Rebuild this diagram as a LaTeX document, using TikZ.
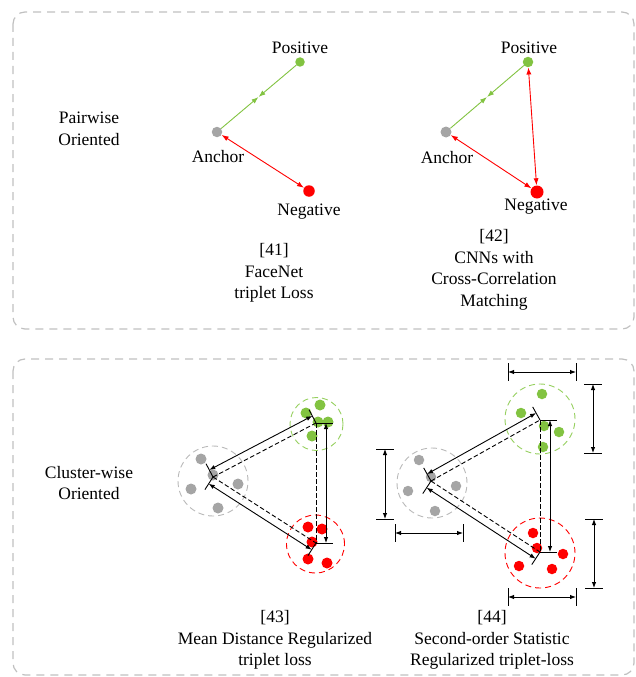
\documentclass[tikz,border=0pt]{standalone}
\usepackage{fontspec}
\setmainfont{Liberation Serif}
\usetikzlibrary{arrows.meta,calc}

\definecolor{leafgreen}{RGB}{130,195,65}
\definecolor{ringgreen}{RGB}{150,208,95}
\definecolor{pointred}{RGB}{255,0,0}
\definecolor{boxgray}{RGB}{192,192,192}
\definecolor{dotgray}{RGB}{165,165,165}
\definecolor{ringgray}{RGB}{185,185,185}

\begin{document}
\begin{tikzpicture}[x=1pt,y=-1pt]
    \tikzset{every node/.style={font=\fontsize{17.5}{21.5}\selectfont},
        dot/.style={circle,fill,inner sep=0pt,minimum size=#1},
        dot/.default=11pt,
        ring/.style={circle,draw,dash pattern=on 6pt off 4pt,line width=0.9pt,inner sep=0pt,minimum size=#1},
        frame/.style={draw=boxgray,line width=1.2pt,dash pattern=on 8pt off 6pt,rounded corners=12pt},
        pull/.style={draw=leafgreen,line width=0.9pt,-{Latex[length=7pt,width=5pt]}},
        push/.style={draw=pointred,line width=0.9pt,{Latex[length=7pt,width=5pt]}-{Latex[length=7pt,width=5pt]}},
        gap/.style={line width=0.9pt,{Latex[length=6pt,width=4.5pt]}-{Latex[length=6pt,width=4.5pt]}},
        meanline/.style={line width=0.9pt,dash pattern=on 4.5pt off 2.5pt},
        tick/.style={line width=0.9pt},
        blurb/.style={align=center}}
    \useasboundingbox (0,0) rectangle (636,677);

    % the two groups
    \draw[frame] (13,12) rectangle (634,329);
    \draw[frame] (13,359) rectangle (634,675);

    \node[blurb] (pw) at (89,129) {Pairwise\\Oriented};
    \node[blurb] (cw) at (89,483) {Cluster-wise\\Oriented};

    % [41]
    \node[dot=9.5pt,fill=leafgreen] (pos1) at (300,62) {};
    \node[dot=10.5pt,fill=dotgray] (anc1) at (217,132) {};
    \node[dot=11.5pt,fill=pointred] (neg1) at (309,191) {};
    \node[anchor=base] (tpos1) at (300,53) {Positive};
    \node[anchor=base] (tanc1) at (218,162) {Anchor};
    \node[anchor=base] (tneg1) at (309,215) {Negative};
    \coordinate (m1) at ($(anc1)!0.5!(pos1)$);
    \draw[pull] (anc1) -- (m1);
    \draw[pull] (pos1) -- (m1);
    \draw[push] (anc1) -- (neg1);
    \node[blurb] (ref41) at (274,273) {[41]\\FaceNet\\triplet Loss};

    % [42]
    \node[dot=10.5pt,fill=leafgreen] (pos2) at (528,62) {};
    \node[dot=11pt,fill=dotgray] (anc2) at (446,132) {};
    \node[dot=13pt,fill=pointred] (neg2) at (537,192) {};
    \node[anchor=base] (tpos2) at (529,54) {Positive};
    \node[anchor=base] (tanc2) at (447,163) {Anchor};
    \node[anchor=base] (tneg2) at (536,210) {Negative};
    \coordinate (m2) at ($(anc2)!0.5!(pos2)$);
    \draw[pull] (anc2) -- (m2);
    \draw[pull] (pos2) -- (m2);
    \draw[push] (anc2) -- (neg2);
    \draw[push] (pos2) -- (neg2);
    \node[blurb] (ref42) at (494,270) {[42]\\CNNs with\\Cross-Correlation\\Matching};

    % [43] clusters
    \node[ring=70pt,draw=ringgray] (ringa3) at (213,481) {};
    \node[ring=53pt,draw=ringgreen] (ringp3) at (316.5,424) {};
    \node[ring=58pt,draw=pointred] (ringn3) at (315.5,544) {};
    \foreach \x/\y [count=\i] in {201/459,191/489,218/508,238/484,213/475}
        \node[dot,fill=dotgray] (ga3\i) at (\x,\y) {};
    \foreach \x/\y [count=\i] in {306/413,320/405,318/422,328/422,312/436}
        \node[dot,fill=leafgreen] (gp3\i) at (\x,\y) {};
    \foreach \x/\y [count=\i] in {308/527,312/542,322/529,308/559,327/563}
        \node[dot,fill=pointred] (gn3\i) at (\x,\y) {};
    \coordinate (anc3) at (213,477);
    \coordinate (pos3) at (316,423);
    \coordinate (neg3) at (316,543);
    \node[blurb] (ref43) at (275,640) {[43]\\Mean Distance Regularized\\triplet loss};

    % [44] clusters
    \node[ring=70pt,draw=ringgray] (ringa4) at (432,483) {};
    \node[ring=70pt,draw=ringgreen] (ringp4) at (540,419) {};
    \node[ring=70pt,draw=pointred] (ringn4) at (540,553) {};
    \foreach \x/\y [count=\i] in {419/460,431/477,408/491,456/486,435/511}
        \node[dot=10.5pt,fill=dotgray] (ga4\i) at (\x,\y) {};
    \foreach \x/\y [count=\i] in {542/394,521/413,544/426,559/432,543/447}
        \node[dot=10.5pt,fill=leafgreen] (gp4\i) at (\x,\y) {};
    \foreach \x/\y [count=\i] in {533/533,537/548,563/554,519/566,552/569}
        \node[dot=10.5pt,fill=pointred] (gn4\i) at (\x,\y) {};
    \coordinate (anc4) at (431,481);
    \coordinate (pos4) at (540,420);
    \coordinate (neg4) at (540,552);
    \node[blurb] (ref44) at (492,640) {[44]\\Second-order Statistic\\Regularized triplet-loss};

    % mean distances, drawn outside each pair
    \foreach \k in {3,4}{
        \foreach \u/\v/\ra/\rb/\off/\tk in {anc/pos/90/-90/8/15,anc/neg/-90/90/8/15,pos/neg/90/-90/10/17}{
            \coordinate (\u\v\k ta) at ($(\u\k)!\tk pt!\ra:(\v\k)$);
            \coordinate (\u\v\k tb) at ($(\v\k)!\tk pt!\rb:(\u\k)$);
            \coordinate (\u\v\k sa) at ($(\u\k)!\off pt!\ra:(\v\k)$);
            \coordinate (\u\v\k sb) at ($(\v\k)!\off pt!\rb:(\u\k)$);
            \draw[meanline] (\u\k) -- (\v\k);
            \draw[tick] (\u\k) -- (\u\v\k ta);
            \draw[tick] (\v\k) -- (\u\v\k tb);
            \draw[gap] (\u\v\k sa) -- (\u\v\k sb);
        }
    }

    % spreads of the clusters in [44]
    \foreach \n/\xa/\ya/\xb/\yb in {top/508/372/576/372,grn/593/384/593/453,gry/385/449/385/519,bot/395/533/463/533,red/594/519/594/588,low/508/597/576/597}{
        \coordinate (\n a) at (\xa,\ya);
        \coordinate (\n b) at (\xb,\yb);
        \draw[gap] (\n a) -- (\n b);
    }
    \foreach \n in {top,bot,low}{
        \draw[tick] ($(\n a)+(0,-9)$) -- ($(\n a)+(0,9)$);
        \draw[tick] ($(\n b)+(0,-9)$) -- ($(\n b)+(0,9)$);
    }
    \foreach \n in {grn,gry,red}{
        \draw[tick] ($(\n a)+(-9,0)$) -- ($(\n a)+(9,0)$);
        \draw[tick] ($(\n b)+(-9,0)$) -- ($(\n b)+(9,0)$);
    }
\end{tikzpicture}
\end{document}
